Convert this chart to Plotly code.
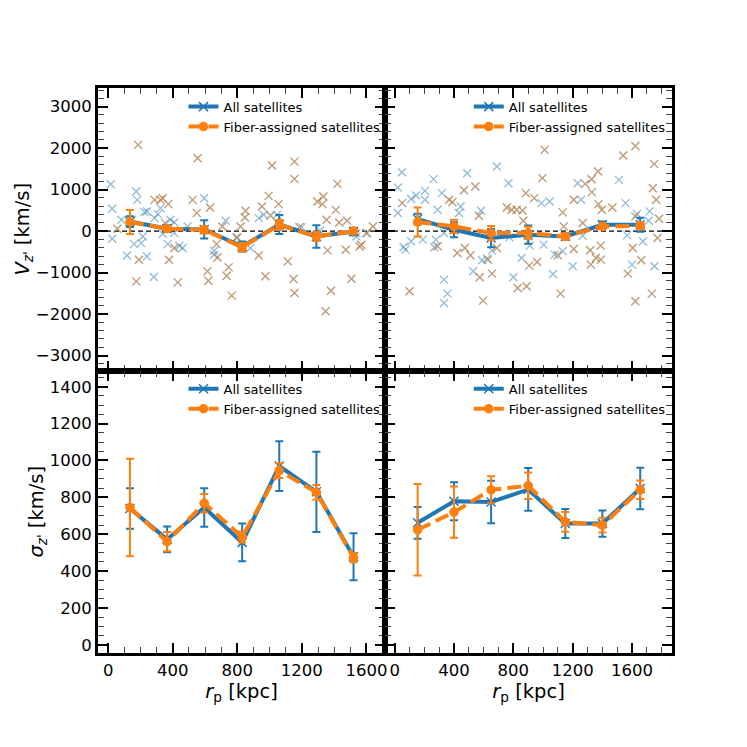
import plotly.graph_objects as go
from plotly.subplots import make_subplots

BLUE = "#1f77b4"
ORANGE = "#ff7f0e"
BLUE_A = "rgba(31,119,180,0.5)"
ORANGE_A = "rgba(255,127,14,0.5)"
FONT = "DejaVu Sans"

# ---------------- data ----------------
left_bins = [135, 365, 595, 830, 1060, 1290, 1520]
right_bins = [155, 400, 650, 900, 1150, 1400, 1655]

# top-left: individual satellites
tl_only_x = [16, 25, 25, 82, 117, 174, 180, 148, 215, 205, 160, 225, 240, 240, 283, 287, 308, 324, 338, 369,
             385, 410, 410, 441, 461, 492, 595, 656, 656, 728, 800, 830, 881, 933, 964, 1046, 1199, 1312, 1538, 1538, 1599]
tl_only_v = [1131, 538, -184, 273, -586, 954, 754, 273, -128, -289, -313, 457, 473, -610, -1107, 313, 409, 554, -64, -313,
             273, 209, -48, -353, -409, 112, 794, -473, -570, 249, -152, -385, -409, 313, 393, 393, 96, 16, -128, -48, -48]
tl_fib_x = [57, 185, 174, 191, 287, 324, 338, 373, 353, 377, 410, 431, 523, 549, 554, 631, 615, 621, 672, 677,
            707, 734, 746, 765, 795, 820, 847, 851, 933, 953, 974, 994, 1005, 1015, 1056, 1113, 1148, 1154, 1154, 1154,
            1185, 1296, 1333, 1328, 1353, 1359, 1347, 1380, 1410, 1420, 1431, 1472, 1480, 1507, 1558, 1568, 1603, 1640]
tl_fib_v = [58, 2078, -1211, -690, 754, 754, 794, 650, 193, -690, -409, -1235, 754, 433, 1756, 570, -970, -1195, -313, -634,
            112, -1074, -874, -1556, -152, 112, 329, 489, -586, 594, -1090, 850, 377, 1580, 650, -730, -1155, 1676, 1260, -1492,
            96, 714, 834, 650, 273, -465, -1933, -1436, 513, 1139, 209, -449, 249, -1147, -369, -329, -48, 112]

# top-right: individual satellites
tr_only_x = [22, 49, 22, 60, 73, 111, 111, 144, 189, 204, 204, 262, 267, 278, 289, 318, 333, 333, 356, 333,
             433, 444, 489, 529, 582, 589, 622, 689, 656, 773, 767, 800, 856, 911, 989, 1044, 1004, 1067, 1078, 1133,
             1200, 1233, 1256, 1267, 1511, 1556, 1567, 1600, 1633, 1673, 1711, 1718, 1751]
tr_only_v = [1050, 1420, 435, -382, -446, 773, -246, 859, -206, 971, 755, 1254, -390, -206, 515, 915, -46, -1170, -1507, -1732,
             435, 595, 1396, -968, 491, -703, -663, 1557, -470, -150, 1155, -1113, -647, -350, 675, 715, -326, -1032, -566, -486,
             -848, 1155, 755, -110, 1235, 675, -102, -807, 411, -246, 250, 475, -848]
tr_fib_x = [51, 100, 289, 367, 389, 422, 467, 473, 511, 544, 567, 573, 629, 656, 689, 596, 756, 789, 822, 862,
            867, 829, 889, 884, 940, 907, 960, 996, 1011, 1100, 1118, 1133, 1140, 1207, 1207, 1267, 1284, 1318, 1322, 1327,
            1329, 1371, 1373, 1389, 1356, 1389, 1396, 1467, 1540, 1622, 1571, 1604, 1622, 1622, 1662, 1733, 1740, 1749, 1762,
            1771, 1782]
tr_fib_v = [675, -1450, -366, 755, 699, -526, 987, -406, -582, 1075, 371, -1113, -687, -1024, -406, -1675, 571, 515, 515, 499,
            250, -1370, -1330, 915, 795, -831, -743, 1277, 1958, -582, -1507, 451, 114, 755, -430, 194, 1139, -462, -807, 1252,
            939, 1436, 651, -350, -647, -687, 515, 571, 1821, 2053, -1024, -406, -1691, 355, -703, -1507, 1034, 1620, 755,
            -166, 298]

# binned mean velocity
tl_all_mean = [230, 60, 40, -370, 160, -130, -10]
tl_all_err = [130, 80, 220, 120, 230, 270, 90]
tl_fib_mean = [220, 60, 30, -390, 150, -130, 0]
tl_fib_err = [290, 70, 90, 100, 120, 110, 60]
tr_all_mean = [290, 34, -167, -87, -127, 153, 153]
tr_all_err = [130, 180, 220, 220, 80, 80, 170]
tr_fib_mean = [218, 114, -46, -46, -127, 114, 130]
tr_fib_err = [350, 160, 170, 150, 80, 70, 80]

# binned velocity dispersion
bl_all_sig = [740, 572, 745, 556, 970, 830, 478]
bl_all_err = [110, 70, 105, 102, 135, 218, 127]
bl_fib_sig = [745, 560, 768, 585, 945, 827, 473]
bl_fib_err = [265, 52, 50, 30, 40, 40, 25]
br_all_sig = [662, 779, 775, 843, 658, 658, 848]
br_all_err = [86, 103, 115, 116, 79, 71, 112]
br_fib_sig = [624, 720, 841, 863, 667, 649, 841]
br_fib_err = [248, 139, 73, 72, 53, 40, 50]

# ---------------- figure ----------------
fig = make_subplots(rows=2, cols=2, horizontal_spacing=0, vertical_spacing=0)

def scatter_pts(x, y, color, row, col):
    fig.add_trace(go.Scatter(x=x, y=y, mode="markers", showlegend=False, hoverinfo="skip",
                             marker=dict(symbol="x-thin", size=8, color=color,
                                         line=dict(width=1.3, color=color))),
                  row=row, col=col)

def mean_line(x, y, err, color, dash, symbol, msize, name, legend, row, col):
    fig.add_trace(go.Scatter(x=x, y=y, mode="lines+markers", name=name, legend=legend,
                             line=dict(color=color, width=4, dash=dash),
                             marker=dict(symbol=symbol, size=msize, color=color,
                                         line=dict(width=1.5, color=color)),
                             error_y=dict(type="data", array=err, color=color, thickness=2, width=4)),
                  row=row, col=col)

# top-left
scatter_pts(tl_only_x + tl_fib_x, tl_only_v + tl_fib_v, BLUE_A, 1, 1)
scatter_pts(tl_fib_x, tl_fib_v, ORANGE_A, 1, 1)
mean_line(left_bins, tl_all_mean, tl_all_err, BLUE, "solid", "x-thin", 9, "All satellites", "legend", 1, 1)
mean_line(left_bins, tl_fib_mean, tl_fib_err, ORANGE, "14px,6px", "circle", 8, "Fiber-assigned satellites", "legend", 1, 1)
# top-right
scatter_pts(tr_only_x + tr_fib_x, tr_only_v + tr_fib_v, BLUE_A, 1, 2)
scatter_pts(tr_fib_x, tr_fib_v, ORANGE_A, 1, 2)
mean_line(right_bins, tr_all_mean, tr_all_err, BLUE, "solid", "x-thin", 9, "All satellites", "legend2", 1, 2)
mean_line(right_bins, tr_fib_mean, tr_fib_err, ORANGE, "14px,6px", "circle", 8, "Fiber-assigned satellites", "legend2", 1, 2)
# bottom-left
mean_line(left_bins, bl_all_sig, bl_all_err, BLUE, "solid", "x-thin", 9, "All satellites", "legend3", 2, 1)
mean_line(left_bins, bl_fib_sig, bl_fib_err, ORANGE, "14px,6px", "circle", 8, "Fiber-assigned satellites", "legend3", 2, 1)
# bottom-right
mean_line(right_bins, br_all_sig, br_all_err, BLUE, "solid", "x-thin", 9, "All satellites", "legend4", 2, 2)
mean_line(right_bins, br_fib_sig, br_fib_err, ORANGE, "14px,6px", "circle", 8, "Fiber-assigned satellites", "legend4", 2, 2)

# zero lines
for c in (1, 2):
    fig.add_hline(y=0, line=dict(color="black", width=1.3, dash="5px,3px"), layer="below", row=1, col=c)

axis_common = dict(showline=True, linewidth=3, linecolor="black", mirror="ticks",
                   ticks="inside", ticklen=10, tickwidth=1.5, tickcolor="black",
                   showgrid=False, zeroline=False,
                   tickfont=dict(family=FONT, size=16.5, color="black"))

left_x = dict(range=[-63, 1715], tickvals=[0, 400, 800, 1200, 1600],
              minor=dict(ticks="inside", dtick=100, tick0=0, ticklen=6, tickwidth=1, tickcolor="#444", showgrid=False))
right_x = dict(range=[-65, 1869], tickvals=[0, 400, 800, 1200, 1600],
               minor=dict(ticks="inside", dtick=100, tick0=0, ticklen=6, tickwidth=1, tickcolor="#444", showgrid=False))
top_y = dict(range=[-3360, 3450], tickvals=[-3000, -2000, -1000, 0, 1000, 2000, 3000],
             ticktext=["\u22123000", "\u22122000", "\u22121000", "0", "1000", "2000", "3000"],
             minor=dict(ticks="inside", dtick=200, tick0=0, ticklen=6, tickwidth=1, tickcolor="#444", showgrid=False))
bot_y = dict(range=[-44, 1488], tickvals=[0, 200, 400, 600, 800, 1000, 1200, 1400],
             minor=dict(ticks="inside", dtick=50, tick0=0, ticklen=6, tickwidth=1, tickcolor="#444", showgrid=False))

title_font = dict(family=FONT, size=19.5, color="black")

fig.update_xaxes(**axis_common, **left_x, showticklabels=False, row=1, col=1)
fig.update_xaxes(**axis_common, **right_x, showticklabels=False, row=1, col=2)
fig.update_xaxes(**axis_common, **left_x, row=2, col=1,
                 title=dict(text="<i>r</i><sub>p</sub> [kpc]", font=title_font, standoff=1))
fig.update_xaxes(**axis_common, **right_x, row=2, col=2,
                 title=dict(text="<i>r</i><sub>p</sub> [kpc]", font=title_font, standoff=1))
fig.update_yaxes(**axis_common, **top_y, row=1, col=1,
                 title=dict(text="<i>V</i><sub><i>z'</i></sub> [km/s]", font=title_font, standoff=2))
fig.update_yaxes(**axis_common, **top_y, showticklabels=False, row=1, col=2)
fig.update_yaxes(**axis_common, **bot_y, row=2, col=1,
                 title=dict(text="<i>\u03c3</i><sub><i>z'</i></sub> [km/s]", font=title_font, standoff=1))
fig.update_yaxes(**axis_common, **bot_y, showticklabels=False, row=2, col=2)

fig.update_xaxes(domain=[0, 0.5], col=1)
fig.update_xaxes(domain=[0.5, 1], col=2)
fig.update_yaxes(domain=[0.5, 1], row=1)
fig.update_yaxes(domain=[0, 0.5], row=2)

leg_common = dict(bgcolor="rgba(0,0,0,0)", borderwidth=0, xanchor="left", yanchor="top",
                  font=dict(family=FONT, size=13, color="black"), tracegroupgap=0, itemwidth=30)
# page body has an 8px default margin, so the figure is 739px and margins are shifted by 8px
fig.update_layout(
    width=739, height=739,
    margin=dict(l=85, r=75, t=80, b=94),
    paper_bgcolor="white", plot_bgcolor="white",
    font=dict(family=FONT, color="black"),
    legend=dict(**leg_common, x=0.149, y=0.9935),
    legend2=dict(**leg_common, x=0.646, y=0.9935),
    legend3=dict(**leg_common, x=0.149, y=0.494),
    legend4=dict(**leg_common, x=0.646, y=0.494),
)

fig.write_html("out.html")
